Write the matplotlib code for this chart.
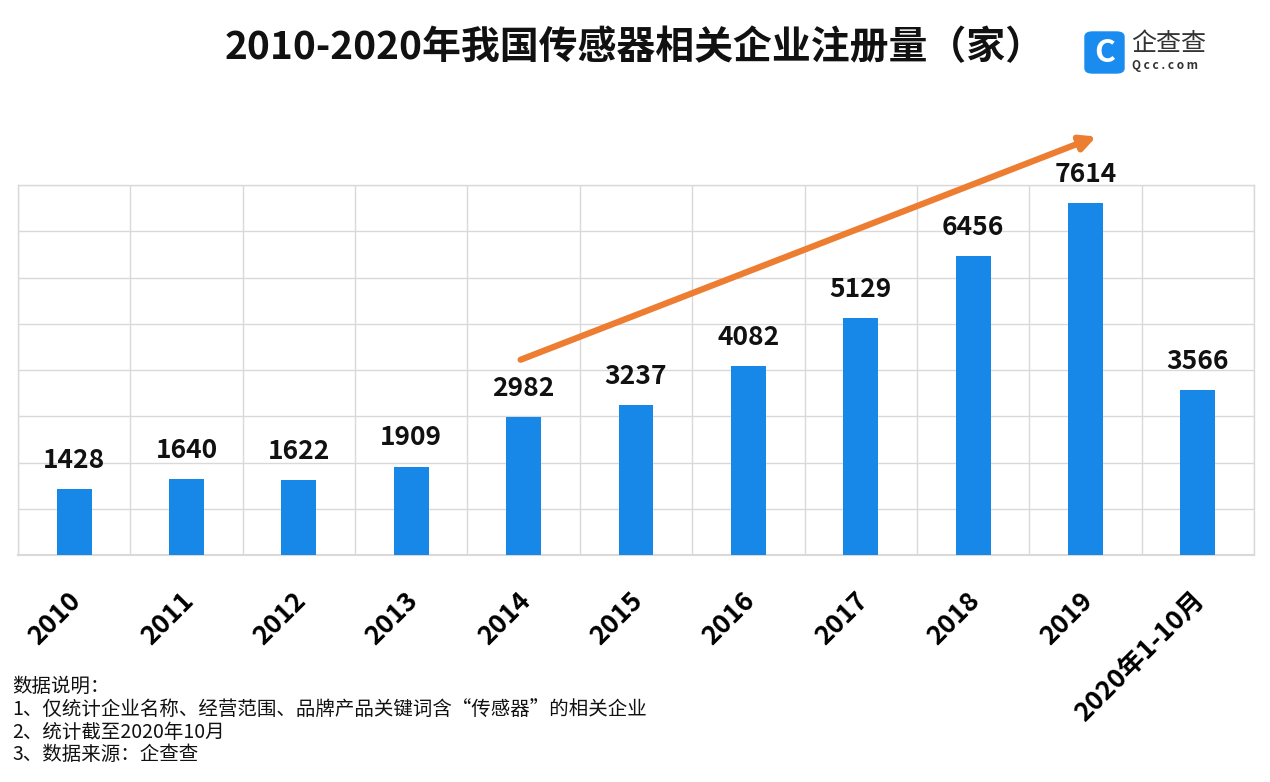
import matplotlib.pyplot as plt
from matplotlib.patches import FancyBboxPatch

plt.rcParams['font.family'] = ['Noto Sans CJK SC', 'DejaVu Sans']

# data
years = ['2010', '2011', '2012', '2013', '2014', '2015', '2016', '2017', '2018', '2019', '2020年1-10月']
counts = [1428, 1640, 1622, 1909, 2982, 3237, 4082, 5129, 6456, 7614, 3566]
notes = ['数据说明：',
         '1、仅统计企业名称、经营范围、品牌产品关键词含“传感器”的相关企业',
         '2、统计截至2020年10月',
         '3、数据来源：企查查']

fig = plt.figure(figsize=(12.7, 7.82), dpi=100)
ax = fig.add_axes([18 / 1270, 1 - 555 / 782, 1236 / 1270, 370 / 782])

x = list(range(len(years)))
ax.bar(x, counts, width=0.31, color='#1788e8', zorder=3)
for xi, v in zip(x, counts):
    ax.text(xi, v + 330, str(v), ha='center', va='bottom', fontsize=19,
            fontweight='bold', color='#111111')

ax.set_xlim(-0.5, len(years) - 0.5)
ax.set_ylim(0, 8000)
ax.set_yticks(range(0, 8001, 1000))
ax.set_yticklabels([])
ax.set_xticks([i - 0.5 for i in range(len(years) + 1)], minor=True)
# labels sit a little left of the bar centre (ticks are invisible)
ax.set_xticks([xi - 0.06 for xi in x])
ax.set_xticklabels(years, rotation=45, ha='right', rotation_mode='anchor',
                   fontsize=19, fontweight='black')
ax.tick_params(axis='x', which='both', length=0, pad=23)
ax.tick_params(axis='y', length=0)
ax.grid(axis='y', color='#d9d9d9', linewidth=1, zorder=0)
ax.grid(axis='x', which='minor', color='#d9d9d9', linewidth=1, zorder=0)
for s in ax.spines.values():
    s.set_color('#d9d9d9')
    s.set_linewidth(1)
ax.spines['bottom'].set_linewidth(1.5)

# trend arrow
ax.annotate('', xy=(9.12, 9070), xytext=(3.95, 4200),
            arrowprops=dict(arrowstyle='-|>,head_length=0.9,head_width=0.45',
                            color='#ed7d31', lw=4.5), annotation_clip=False)

fig.text(0.4995, 1 - 48 / 782, '2010-2020年我国传感器相关企业注册量（家）', ha='center', va='center',
         fontsize=28, fontweight='bold', color='#111111')

# logo
logo = FancyBboxPatch((1085 / 1270, 1 - 73 / 782), 39 / 1270, 41 / 782,
                      boxstyle='round,pad=0,rounding_size=0.006',
                      transform=fig.transFigure, color='#1a8cf0')
fig.patches.append(logo)
fig.text(1104.5 / 1270, 1 - 53 / 782, 'C', ha='center', va='center', fontsize=23,
         fontweight='bold', color='white')
fig.text(1131 / 1270, 1 - 44 / 782, '企查查', ha='left', va='center', fontsize=18,
         color='#333333')
fig.text(1132 / 1270, 1 - 66 / 782, 'Q c c . c o m', ha='left', va='center', fontsize=8.5,
         color='#333333', fontweight='bold')

for i, line in enumerate(notes):
    fig.text(12 / 1270, 1 - (686 + 23 * i) / 782, line, ha='left', va='center',
             fontsize=14, color='#111111')

fig.savefig('out.png', dpi=100, facecolor='white')
